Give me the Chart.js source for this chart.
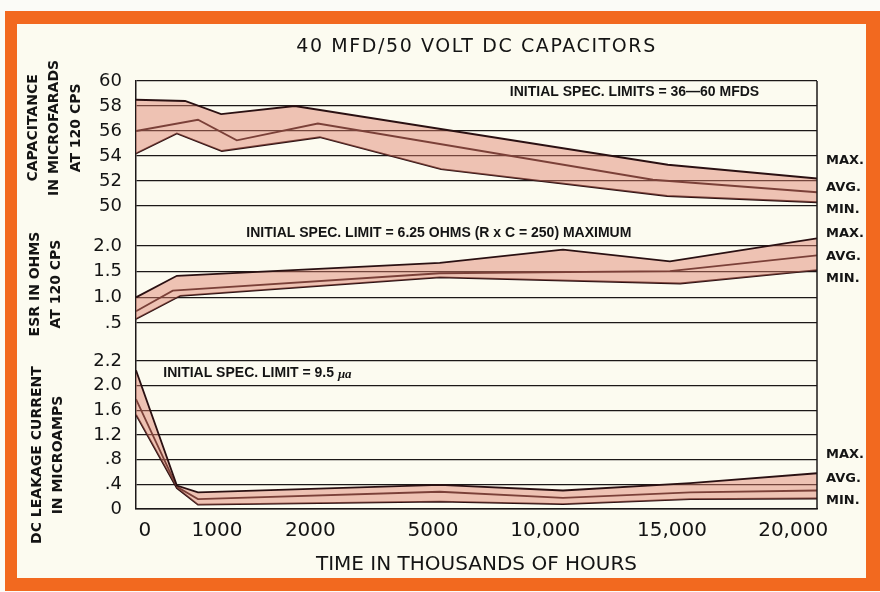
<!DOCTYPE html>
<html><head><meta charset="utf-8">
<script src="https://cdn.jsdelivr.net/npm/chart.js@4/dist/chart.umd.min.js"></script>
<style>html,body{margin:0;padding:0;background:#fbfbf7;}#wrap{width:880px;height:592px;position:relative;}</style>
</head><body><div id="wrap"><canvas id="c"></canvas></div>
<script>
// Time axis: position along the drawn (non-uniform) time scale, 0 = start, 100 = end
const timeTickPos = [1.3, 11.9, 25.6, 43.6, 60.1, 78.7, 96.5];
const timeTickLabels = ['0', '1000', '2000', '5000', '10,000', '15,000', '20,000'];

// Capacitance (microfarads)
const capMaxT = [0, 7.2, 12.5, 23.3, 78.1, 100];
const capMax  = [58.5, 58.4, 57.35, 58.0, 53.3, 52.2];
const capAvgT = [0, 9.1, 14.8, 26.7, 75.9, 100];
const capAvg  = [56.0, 56.9, 55.25, 56.6, 52.1, 51.1];
const capMinT = [0, 6.0, 12.6, 27.0, 44.8, 78.0, 100];
const capMin  = [54.2, 55.8, 54.4, 55.5, 52.95, 50.8, 50.3];
const capTicks = [50, 52, 54, 56, 58, 60];
const capTickLabels = ['50', '52', '54', '56', '58', '60'];

// ESR (ohms)
const esrMaxT = [0, 6.0, 44.6, 62.7, 78.4, 100];
const esrMax  = [1.0, 1.42, 1.67, 1.93, 1.70, 2.15];
const esrAvgT = [0, 5.4, 44.6, 78.4, 100];
const esrAvg  = [0.73, 1.13, 1.47, 1.51, 1.82];
const esrMinT = [0, 6.5, 44.6, 79.9, 100];
const esrMin  = [0.58, 1.03, 1.39, 1.27, 1.53];
const esrTicks = [0.5, 1.0, 1.5, 2.0];
const esrTickLabels = ['.5', '1.0', '1.5', '2.0'];

// DC leakage current (microamps)
const leakT   = [0, 6.0, 9.1, 44.6, 62.7, 81.4, 100];
const leakMax = [2.25, 0.38, 0.27, 0.39, 0.30, 0.42, 0.58];
const leakAvg = [1.78, 0.36, 0.16, 0.28, 0.18, 0.27, 0.30];
const leakMin = [1.53, 0.34, 0.07, 0.12, 0.08, 0.16, 0.17];
const leakTicks = [0, 0.4, 0.8, 1.2, 1.6, 2.0, 2.4];
const leakTickLabels = ['0', '.4', '.8', '1.2', '1.6', '2.0', '2.2'];

const endLabels = ['MAX.', 'AVG.', 'MIN.'];
const capTitle = ['CAPACITANCE', 'IN MICROFARADS', 'AT 120 CPS'];
const esrTitle = ['ESR IN OHMS', 'AT 120 CPS'];
const leakTitle = ['DC LEAKAGE CURRENT', 'IN MICROAMPS'];

const LINE = '#1c1818';
const DATA = '#2a1012';
const BAND = 'rgba(222,125,105,0.45)';
const TXT = '#141414';

const pts = (t, v) => t.map((x, i) => ({x, y: v[i]}));
function ds(t, v, axis, fillTo) {
  return {data: pts(t, v), yAxisID: axis, borderColor: DATA, borderWidth: 1.8,
    pointRadius: 0, tension: 0, fill: fillTo === undefined ? false : fillTo,
    backgroundColor: BAND};
}

const deco = {
  id: 'deco',
  beforeDraw(chart) {
    const {ctx, width, height} = chart;
    ctx.save();
    ctx.fillStyle = '#fbfbf7'; ctx.fillRect(0, 0, width, height);
    ctx.fillStyle = '#f2691f'; ctx.fillRect(5, 11, 875, 580);
    ctx.fillStyle = '#fcfbf0'; ctx.fillRect(17, 24, 849, 554);
    ctx.restore();
  },
  afterDraw(chart) {
    const {ctx, chartArea: a, scales: s} = chart;
    ctx.save();
    ctx.strokeStyle = LINE; ctx.lineWidth = 1.5;
    ctx.beginPath(); ctx.moveTo(a.right, a.top); ctx.lineTo(a.right, a.bottom); ctx.stroke();
    // title
    ctx.fillStyle = TXT; ctx.textBaseline = 'middle'; ctx.textAlign = 'center';
    ctx.font = '19px "DejaVu Sans"';
    try { ctx.letterSpacing = '1.6px'; } catch (e) {}
    ctx.fillText('40 MFD/50 VOLT DC CAPACITORS', (a.left + a.right) / 2, 47);
    try { ctx.letterSpacing = '0px'; } catch (e) {}
    // rotated axis titles
    ctx.font = 'bold 14px "DejaVu Sans"';
    const axTitles = [[capTitle, 'yCap', 56.25, 33], [esrTitle, 'yEsr', 1.26, 35], [leakTitle, 'yLeak', 0.875, 37]];
    axTitles.forEach(([lines, id, v, x0]) => {
      const cy = s[id].getPixelForValue(v);
      lines.forEach((t, i) => {
        ctx.save(); ctx.translate(x0 + i * 21.5, cy); ctx.rotate(-Math.PI / 2);
        ctx.fillText(t, 0, 0); ctx.restore();
      });
    });
    // spec notes
    ctx.font = 'bold 14px "Liberation Sans"';
    ctx.textAlign = 'center';
    ctx.fillText('INITIAL SPEC. LIMITS = 36\u201460 MFDS', s.x.getPixelForValue(73.2), s.yCap.getPixelForValue(59.1));
    ctx.textAlign = 'left';
    ctx.fillText('INITIAL SPEC. LIMIT = 6.25 OHMS (R x C = 250) MAXIMUM', s.x.getPixelForValue(16.2), s.yEsr.getPixelForValue(2.25));
    const lx = s.x.getPixelForValue(4.0), ly = s.yLeak.getPixelForValue(2.2);
    const t1 = 'INITIAL SPEC. LIMIT = 9.5 ';
    ctx.fillText(t1, lx, ly);
    const w1 = ctx.measureText(t1).width;
    ctx.font = 'italic bold 13px "Liberation Serif"';
    ctx.fillText('\u03BCa', lx + w1, ly + 1);
    // end labels
    ctx.font = 'bold 13px "DejaVu Sans"';
    ctx.textAlign = 'left';
    const rx = a.right + 9;
    const groups = [['yCap', [53.6, 51.5, 49.7]], ['yEsr', [2.25, 1.8, 1.36]], ['yLeak', [0.88, 0.5, 0.13]]];
    groups.forEach(([id, vals]) => vals.forEach((v, i) => ctx.fillText(endLabels[i], rx, s[id].getPixelForValue(v))));
    ctx.restore();
  }
};

const yTickFont = {family: 'DejaVu Sans', size: 18};
function yAxis(min, max, weight, ticks, labels) {
  return {
    type: 'linear', position: 'left', stack: 'panels', stackWeight: weight,
    min, max,
    afterBuildTicks: sc => { sc.ticks = ticks.map(v => ({value: v})); },
    afterFit: sc => { sc.width = 116; },
    ticks: {padding: 14, color: TXT, font: yTickFont, autoSkip: false,
      callback: (v, i) => labels[i]},
    grid: {color: LINE, lineWidth: 1.3, drawTicks: false},
    border: {display: true, color: LINE, width: 1.5},
    title: {display: false}
  };
}

new Chart(document.getElementById('c'), {
  type: 'line',
  data: {datasets: [
    ds(capMaxT, capMax, 'yCap', 2), ds(capAvgT, capAvg, 'yCap'), ds(capMinT, capMin, 'yCap'),
    ds(esrMaxT, esrMax, 'yEsr', 5), ds(esrAvgT, esrAvg, 'yEsr'), ds(esrMinT, esrMin, 'yEsr'),
    ds(leakT, leakMax, 'yLeak', 8), ds(leakT, leakAvg, 'yLeak'), ds(leakT, leakMin, 'yLeak')
  ]},
  options: {
    responsive: true, maintainAspectRatio: false, animation: false,
    layout: {padding: {top: 81, left: 20, right: 63, bottom: 11}},
    plugins: {legend: {display: false}, tooltip: {enabled: false}, title: {display: false}},
    scales: {
      x: {type: 'linear', min: 0, max: 100,
        afterBuildTicks: sc => { sc.ticks = timeTickPos.map(v => ({value: v})); },
        afterFit: sc => { sc.height = 72; },
        grid: {display: false, drawTicks: false},
        border: {display: true, color: LINE, width: 1.5},
        ticks: {autoSkip: false, maxRotation: 0, padding: 10, color: TXT,
          font: {family: 'DejaVu Sans', size: 20}, callback: (v, i) => timeTickLabels[i]},
        title: {display: true, text: 'TIME IN THOUSANDS OF HOURS', color: TXT,
          font: {family: 'DejaVu Sans', size: 20}, padding: {top: 0, bottom: 4}}
      },
      // stacked axes are laid out bottom-up in definition order
      yLeak: yAxis(0, 2.4, 148, leakTicks, leakTickLabels),
      yEsr: yAxis(-0.24, 2.78, 155, esrTicks, esrTickLabels),
      yCap: yAxis(50, 60, 125, capTicks, capTickLabels)
    }
  },
  plugins: [deco]
});
</script></body></html>
